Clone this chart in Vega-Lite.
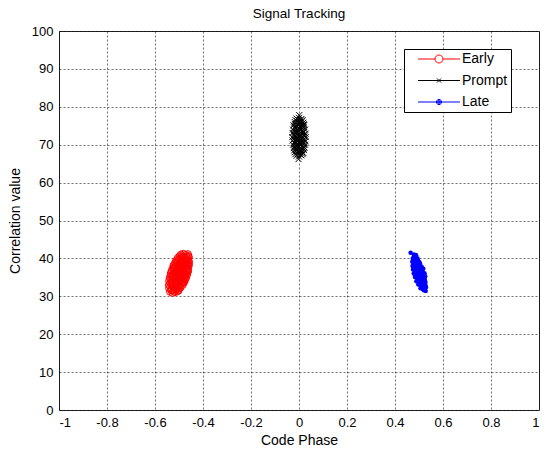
{
  "$schema": "https://vega.github.io/schema/vega-lite/v6.json",
  "width": 480,
  "height": 379,
  "autosize": {"type": "none"},
  "padding": {"left": 59, "top": 31, "right": 5, "bottom": 39},
  "background": "white",
  "title": {"text": "Signal Tracking", "font": "Liberation Sans", "fontSize": 13.5, "fontWeight": "normal", "color": "#000", "offset": 5},
  "config": {
    "view": {"stroke": "#262626", "strokeWidth": 1},
    "axis": {
      "labelFont": "Liberation Sans", "labelFontSize": 13, "labelColor": "#000",
      "titleFont": "Liberation Sans", "titleFontSize": 14, "titleFontWeight": "normal", "titleColor": "#000",
      "domain": false, "ticks": false, "grid": true, "gridColor": "#000", "gridDash": [2, 2], "gridWidth": 0.7, "gridOpacity": 0.8
    },
    "legend": {
      "orient": "none", "legendX": 345, "legendY": 18, "direction": "vertical",
      "strokeColor": "#000", "fillColor": "#fff", "padding": 3,
      "symbolSize": 64, "symbolOffset": 2, "labelOffset": 39, "rowPadding": 7.5,
      "labelFont": "Liberation Sans", "labelFontSize": 14, "labelColor": "#000",
      "symbolStrokeWidth": 1
    }
  },
  "data": {"values": [
    {"s":"Early","x":-0.537,"y":31.2},{"s":"Early","x":-0.527,"y":30.9},{"s":"Early","x":-0.517,"y":31.1},{"s":"Early","x":-0.508,"y":31.3},
    {"s":"Early","x":-0.541,"y":32.1},{"s":"Early","x":-0.531,"y":31.8},{"s":"Early","x":-0.521,"y":32.2},{"s":"Early","x":-0.511,"y":31.9},{"s":"Early","x":-0.501,"y":32.0},{"s":"Early","x":-0.494,"y":32.3},
    {"s":"Early","x":-0.542,"y":33.0},{"s":"Early","x":-0.532,"y":33.2},{"s":"Early","x":-0.522,"y":32.8},{"s":"Early","x":-0.512,"y":33.1},{"s":"Early","x":-0.502,"y":32.9},{"s":"Early","x":-0.492,"y":33.2},{"s":"Early","x":-0.485,"y":33.0},
    {"s":"Early","x":-0.541,"y":34.1},{"s":"Early","x":-0.531,"y":33.9},{"s":"Early","x":-0.521,"y":34.2},{"s":"Early","x":-0.511,"y":33.8},{"s":"Early","x":-0.501,"y":34.0},{"s":"Early","x":-0.491,"y":34.2},{"s":"Early","x":-0.481,"y":33.9},{"s":"Early","x":-0.476,"y":34.1},
    {"s":"Early","x":-0.538,"y":35.0},{"s":"Early","x":-0.528,"y":35.2},{"s":"Early","x":-0.518,"y":34.8},{"s":"Early","x":-0.508,"y":35.1},{"s":"Early","x":-0.498,"y":34.9},{"s":"Early","x":-0.488,"y":35.2},{"s":"Early","x":-0.478,"y":35.0},{"s":"Early","x":-0.471,"y":34.8},
    {"s":"Early","x":-0.534,"y":36.1},{"s":"Early","x":-0.524,"y":35.9},{"s":"Early","x":-0.514,"y":36.2},{"s":"Early","x":-0.504,"y":35.8},{"s":"Early","x":-0.494,"y":36.0},{"s":"Early","x":-0.484,"y":36.3},{"s":"Early","x":-0.474,"y":35.9},{"s":"Early","x":-0.466,"y":36.1},
    {"s":"Early","x":-0.529,"y":37.0},{"s":"Early","x":-0.519,"y":37.2},{"s":"Early","x":-0.509,"y":36.8},{"s":"Early","x":-0.499,"y":37.1},{"s":"Early","x":-0.489,"y":36.9},{"s":"Early","x":-0.479,"y":37.2},{"s":"Early","x":-0.469,"y":37.0},{"s":"Early","x":-0.462,"y":36.8},
    {"s":"Early","x":-0.523,"y":38.1},{"s":"Early","x":-0.513,"y":37.9},{"s":"Early","x":-0.503,"y":38.2},{"s":"Early","x":-0.493,"y":37.8},{"s":"Early","x":-0.483,"y":38.0},{"s":"Early","x":-0.473,"y":38.3},{"s":"Early","x":-0.463,"y":37.9},{"s":"Early","x":-0.459,"y":38.1},
    {"s":"Early","x":-0.515,"y":39.0},{"s":"Early","x":-0.505,"y":39.2},{"s":"Early","x":-0.495,"y":38.8},{"s":"Early","x":-0.485,"y":39.1},{"s":"Early","x":-0.475,"y":38.9},{"s":"Early","x":-0.465,"y":39.2},{"s":"Early","x":-0.458,"y":39.0},
    {"s":"Early","x":-0.505,"y":40.1},{"s":"Early","x":-0.495,"y":39.9},{"s":"Early","x":-0.485,"y":40.2},{"s":"Early","x":-0.475,"y":39.8},{"s":"Early","x":-0.465,"y":40.0},{"s":"Early","x":-0.459,"y":40.3},
    {"s":"Early","x":-0.492,"y":41.0},{"s":"Early","x":-0.482,"y":41.2},{"s":"Early","x":-0.472,"y":40.9},{"s":"Early","x":-0.463,"y":41.1},
    {"s":"Early","x":-0.532,"y":31.6},{"s":"Early","x":-0.522,"y":31.5},{"s":"Early","x":-0.512,"y":31.7},{"s":"Early","x":-0.502,"y":31.5},
    {"s":"Early","x":-0.536,"y":32.5},{"s":"Early","x":-0.526,"y":32.6},{"s":"Early","x":-0.516,"y":32.4},{"s":"Early","x":-0.506,"y":32.5},{"s":"Early","x":-0.496,"y":32.6},
    {"s":"Early","x":-0.537,"y":33.5},{"s":"Early","x":-0.527,"y":33.6},{"s":"Early","x":-0.517,"y":33.4},{"s":"Early","x":-0.507,"y":33.5},{"s":"Early","x":-0.497,"y":33.7},{"s":"Early","x":-0.487,"y":33.5},{"s":"Early","x":-0.480,"y":33.6},
    {"s":"Early","x":-0.536,"y":34.5},{"s":"Early","x":-0.526,"y":34.6},{"s":"Early","x":-0.516,"y":34.4},{"s":"Early","x":-0.506,"y":34.5},{"s":"Early","x":-0.496,"y":34.6},{"s":"Early","x":-0.486,"y":34.4},{"s":"Early","x":-0.476,"y":34.5},
    {"s":"Early","x":-0.533,"y":35.5},{"s":"Early","x":-0.523,"y":35.6},{"s":"Early","x":-0.513,"y":35.4},{"s":"Early","x":-0.503,"y":35.5},{"s":"Early","x":-0.493,"y":35.7},{"s":"Early","x":-0.483,"y":35.5},{"s":"Early","x":-0.473,"y":35.4},{"s":"Early","x":-0.467,"y":35.6},
    {"s":"Early","x":-0.529,"y":36.5},{"s":"Early","x":-0.519,"y":36.6},{"s":"Early","x":-0.509,"y":36.4},{"s":"Early","x":-0.499,"y":36.5},{"s":"Early","x":-0.489,"y":36.6},{"s":"Early","x":-0.479,"y":36.4},{"s":"Early","x":-0.469,"y":36.5},{"s":"Early","x":-0.463,"y":36.6},
    {"s":"Early","x":-0.524,"y":37.5},{"s":"Early","x":-0.514,"y":37.6},{"s":"Early","x":-0.504,"y":37.4},{"s":"Early","x":-0.494,"y":37.5},{"s":"Early","x":-0.484,"y":37.7},{"s":"Early","x":-0.474,"y":37.5},{"s":"Early","x":-0.464,"y":37.4},
    {"s":"Early","x":-0.518,"y":38.5},{"s":"Early","x":-0.508,"y":38.6},{"s":"Early","x":-0.498,"y":38.4},{"s":"Early","x":-0.488,"y":38.5},{"s":"Early","x":-0.478,"y":38.6},{"s":"Early","x":-0.468,"y":38.4},{"s":"Early","x":-0.460,"y":38.5},
    {"s":"Early","x":-0.510,"y":39.5},{"s":"Early","x":-0.500,"y":39.6},{"s":"Early","x":-0.490,"y":39.4},{"s":"Early","x":-0.480,"y":39.5},{"s":"Early","x":-0.470,"y":39.6},{"s":"Early","x":-0.461,"y":39.5},
    {"s":"Early","x":-0.498,"y":40.5},{"s":"Early","x":-0.488,"y":40.6},{"s":"Early","x":-0.478,"y":40.4},{"s":"Early","x":-0.468,"y":40.5},{"s":"Early","x":-0.461,"y":40.6},

    {"s":"Prompt","x":-0.01,"y":67.1},{"s":"Prompt","x":0,"y":66.9},{"s":"Prompt","x":0.01,"y":67.2},
    {"s":"Prompt","x":-0.018,"y":68.0},{"s":"Prompt","x":-0.008,"y":68.2},{"s":"Prompt","x":0.002,"y":67.9},{"s":"Prompt","x":0.012,"y":68.1},{"s":"Prompt","x":0.018,"y":67.8},
    {"s":"Prompt","x":-0.022,"y":69.1},{"s":"Prompt","x":-0.012,"y":68.9},{"s":"Prompt","x":-0.002,"y":69.2},{"s":"Prompt","x":0.008,"y":68.8},{"s":"Prompt","x":0.018,"y":69.0},{"s":"Prompt","x":0.023,"y":69.2},
    {"s":"Prompt","x":-0.025,"y":70.0},{"s":"Prompt","x":-0.015,"y":70.2},{"s":"Prompt","x":-0.005,"y":69.9},{"s":"Prompt","x":0.005,"y":70.1},{"s":"Prompt","x":0.015,"y":69.8},{"s":"Prompt","x":0.025,"y":70.0},
    {"s":"Prompt","x":-0.027,"y":71.1},{"s":"Prompt","x":-0.017,"y":70.9},{"s":"Prompt","x":-0.007,"y":71.2},{"s":"Prompt","x":0.003,"y":70.8},{"s":"Prompt","x":0.013,"y":71.0},{"s":"Prompt","x":0.023,"y":71.2},{"s":"Prompt","x":0.027,"y":70.9},
    {"s":"Prompt","x":-0.028,"y":72.0},{"s":"Prompt","x":-0.018,"y":72.2},{"s":"Prompt","x":-0.008,"y":71.8},{"s":"Prompt","x":0.002,"y":72.1},{"s":"Prompt","x":0.012,"y":71.9},{"s":"Prompt","x":0.022,"y":72.2},{"s":"Prompt","x":0.028,"y":72.0},
    {"s":"Prompt","x":-0.027,"y":73.1},{"s":"Prompt","x":-0.021,"y":72.9},{"s":"Prompt","x":-0.011,"y":73.2},{"s":"Prompt","x":-0.001,"y":72.8},{"s":"Prompt","x":0.009,"y":73.0},{"s":"Prompt","x":0.019,"y":73.2},{"s":"Prompt","x":0.027,"y":72.9},
    {"s":"Prompt","x":-0.025,"y":74.0},{"s":"Prompt","x":-0.015,"y":74.2},{"s":"Prompt","x":-0.005,"y":73.9},{"s":"Prompt","x":0.005,"y":74.1},{"s":"Prompt","x":0.015,"y":73.8},{"s":"Prompt","x":0.025,"y":74.0},
    {"s":"Prompt","x":-0.023,"y":75.1},{"s":"Prompt","x":-0.013,"y":74.9},{"s":"Prompt","x":-0.003,"y":75.2},{"s":"Prompt","x":0.007,"y":74.8},{"s":"Prompt","x":0.017,"y":75.0},{"s":"Prompt","x":0.022,"y":75.2},
    {"s":"Prompt","x":-0.018,"y":76.0},{"s":"Prompt","x":-0.008,"y":76.2},{"s":"Prompt","x":0.002,"y":75.9},{"s":"Prompt","x":0.012,"y":76.1},{"s":"Prompt","x":0.018,"y":75.8},
    {"s":"Prompt","x":-0.01,"y":76.9},{"s":"Prompt","x":0,"y":77.1},{"s":"Prompt","x":0.01,"y":76.8},
    {"s":"Prompt","x":-0.015,"y":67.5},{"s":"Prompt","x":-0.005,"y":67.6},{"s":"Prompt","x":0.005,"y":67.4},{"s":"Prompt","x":0.015,"y":67.5},
    {"s":"Prompt","x":-0.02,"y":68.5},{"s":"Prompt","x":-0.01,"y":68.6},{"s":"Prompt","x":0,"y":68.4},{"s":"Prompt","x":0.01,"y":68.5},{"s":"Prompt","x":0.02,"y":68.6},
    {"s":"Prompt","x":-0.02,"y":69.5},{"s":"Prompt","x":-0.01,"y":69.4},{"s":"Prompt","x":0,"y":69.6},{"s":"Prompt","x":0.01,"y":69.5},{"s":"Prompt","x":0.02,"y":69.4},
    {"s":"Prompt","x":-0.02,"y":70.5},{"s":"Prompt","x":-0.01,"y":70.6},{"s":"Prompt","x":0,"y":70.4},{"s":"Prompt","x":0.01,"y":70.5},{"s":"Prompt","x":0.02,"y":70.6},
    {"s":"Prompt","x":-0.02,"y":71.5},{"s":"Prompt","x":-0.01,"y":71.4},{"s":"Prompt","x":0,"y":71.6},{"s":"Prompt","x":0.01,"y":71.5},{"s":"Prompt","x":0.02,"y":71.4},
    {"s":"Prompt","x":-0.02,"y":72.5},{"s":"Prompt","x":-0.01,"y":72.6},{"s":"Prompt","x":0,"y":72.4},{"s":"Prompt","x":0.01,"y":72.5},{"s":"Prompt","x":0.02,"y":72.6},
    {"s":"Prompt","x":-0.02,"y":73.5},{"s":"Prompt","x":-0.01,"y":73.4},{"s":"Prompt","x":0,"y":73.6},{"s":"Prompt","x":0.01,"y":73.5},{"s":"Prompt","x":0.02,"y":73.4},
    {"s":"Prompt","x":-0.02,"y":74.5},{"s":"Prompt","x":-0.01,"y":74.6},{"s":"Prompt","x":0,"y":74.4},{"s":"Prompt","x":0.01,"y":74.5},{"s":"Prompt","x":0.02,"y":74.6},
    {"s":"Prompt","x":-0.018,"y":75.5},{"s":"Prompt","x":-0.008,"y":75.4},{"s":"Prompt","x":0.002,"y":75.6},{"s":"Prompt","x":0.012,"y":75.5},{"s":"Prompt","x":0.02,"y":75.4},
    {"s":"Prompt","x":-0.015,"y":76.5},{"s":"Prompt","x":-0.005,"y":76.6},{"s":"Prompt","x":0.005,"y":76.4},{"s":"Prompt","x":0.015,"y":76.5},
    {"s":"Prompt","x":0.001,"y":77.8},{"s":"Prompt","x":-0.002,"y":66.2},

    {"s":"Late","x":0.520,"y":31.6},{"s":"Late","x":0.528,"y":31.4},
    {"s":"Late","x":0.506,"y":32.1},{"s":"Late","x":0.516,"y":31.9},{"s":"Late","x":0.526,"y":32.2},
    {"s":"Late","x":0.511,"y":32.5},{"s":"Late","x":0.521,"y":32.6},{"s":"Late","x":0.529,"y":32.4},
    {"s":"Late","x":0.497,"y":33.1},{"s":"Late","x":0.507,"y":32.9},{"s":"Late","x":0.517,"y":33.2},{"s":"Late","x":0.527,"y":33.0},
    {"s":"Late","x":0.502,"y":33.5},{"s":"Late","x":0.512,"y":33.6},{"s":"Late","x":0.522,"y":33.4},
    {"s":"Late","x":0.489,"y":34.0},{"s":"Late","x":0.499,"y":34.2},{"s":"Late","x":0.509,"y":33.9},{"s":"Late","x":0.519,"y":34.1},{"s":"Late","x":0.527,"y":33.8},
    {"s":"Late","x":0.494,"y":34.5},{"s":"Late","x":0.504,"y":34.6},{"s":"Late","x":0.514,"y":34.4},{"s":"Late","x":0.524,"y":34.5},
    {"s":"Late","x":0.483,"y":35.1},{"s":"Late","x":0.493,"y":34.9},{"s":"Late","x":0.503,"y":35.2},{"s":"Late","x":0.513,"y":34.8},{"s":"Late","x":0.523,"y":35.0},{"s":"Late","x":0.526,"y":35.3},
    {"s":"Late","x":0.488,"y":35.5},{"s":"Late","x":0.498,"y":35.6},{"s":"Late","x":0.508,"y":35.4},{"s":"Late","x":0.518,"y":35.5},
    {"s":"Late","x":0.478,"y":36.0},{"s":"Late","x":0.488,"y":36.2},{"s":"Late","x":0.498,"y":35.9},{"s":"Late","x":0.508,"y":36.1},{"s":"Late","x":0.518,"y":35.8},{"s":"Late","x":0.523,"y":36.1},
    {"s":"Late","x":0.483,"y":36.5},{"s":"Late","x":0.493,"y":36.6},{"s":"Late","x":0.503,"y":36.4},{"s":"Late","x":0.513,"y":36.5},
    {"s":"Late","x":0.475,"y":37.1},{"s":"Late","x":0.485,"y":36.9},{"s":"Late","x":0.495,"y":37.2},{"s":"Late","x":0.505,"y":36.8},{"s":"Late","x":0.515,"y":37.0},{"s":"Late","x":0.518,"y":37.3},
    {"s":"Late","x":0.479,"y":37.5},{"s":"Late","x":0.489,"y":37.6},{"s":"Late","x":0.499,"y":37.4},{"s":"Late","x":0.509,"y":37.5},
    {"s":"Late","x":0.473,"y":38.0},{"s":"Late","x":0.483,"y":38.2},{"s":"Late","x":0.493,"y":37.9},{"s":"Late","x":0.503,"y":38.1},{"s":"Late","x":0.511,"y":37.8},
    {"s":"Late","x":0.477,"y":38.5},{"s":"Late","x":0.487,"y":38.6},{"s":"Late","x":0.497,"y":38.4},{"s":"Late","x":0.505,"y":38.5},
    {"s":"Late","x":0.472,"y":39.1},{"s":"Late","x":0.482,"y":38.9},{"s":"Late","x":0.492,"y":39.2},{"s":"Late","x":0.502,"y":39.0},
    {"s":"Late","x":0.477,"y":39.5},{"s":"Late","x":0.487,"y":39.6},{"s":"Late","x":0.497,"y":39.4},
    {"s":"Late","x":0.474,"y":40.0},{"s":"Late","x":0.484,"y":40.2},{"s":"Late","x":0.494,"y":39.9},
    {"s":"Late","x":0.479,"y":40.5},{"s":"Late","x":0.489,"y":40.6},
    {"s":"Late","x":0.478,"y":41.0},{"s":"Late","x":0.487,"y":40.9},
    {"s":"Late","x":0.465,"y":41.5}
  ]},
  "encoding": {
    "x": {"field": "x", "type": "quantitative",
      "scale": {"domain": [-1, 1], "nice": false, "zero": false},
      "axis": {"title": "Code Phase", "values": [-1, -0.8, -0.6, -0.4, -0.2, 0, 0.2, 0.4, 0.6, 0.8, 1], "labelExpr": "'' + datum.value", "labelPadding": 6, "titlePadding": 4}},
    "y": {"field": "y", "type": "quantitative",
      "scale": {"domain": [0, 100], "nice": false},
      "axis": {"title": "Correlation value", "values": [0, 10, 20, 30, 40, 50, 60, 70, 80, 90, 100], "labelPadding": 6, "titlePadding": 9}}
  },
  "layer": [
    {"transform": [{"filter": "datum.s === 'Early'"}],
     "mark": {"type": "point", "shape": "circle", "filled": false, "size": 50, "strokeWidth": 1, "opacity": 1, "color": "#ff0000"}},
    {"transform": [{"filter": "datum.s === 'Prompt'"}],
     "mark": {"type": "point", "shape": "M-1,-1L1,1M-1,1L1,-1", "filled": false, "size": 36, "strokeWidth": 1, "opacity": 1, "color": "#000000"}},
    {"transform": [{"filter": "datum.s === 'Late'"}],
     "mark": {"type": "point", "shape": "circle", "filled": true, "size": 20, "opacity": 1, "color": "#0000ff"}},
    {"transform": [{"filter": "false"}],
     "mark": {"type": "point", "filled": false, "size": 64, "strokeWidth": 1, "opacity": 1},
     "encoding": {
       "color": {"field": "s", "type": "nominal",
         "scale": {"domain": ["Early", "Prompt", "Late"], "range": ["#ff0000", "#000000", "#0000ff"]},
         "legend": {"title": null}},
       "shape": {"field": "s", "type": "nominal",
         "scale": {"domain": ["Early", "Prompt", "Late"],
           "range": [
             "M0.5,0H4.75M6.75,0H11M4.75,0A1,1 0 1,1 6.75,0A1,1 0 1,1 4.75,0",
             "M0.5,0H11M5.25,-0.5L6.25,0.5M5.25,0.5L6.25,-0.5",
             "M0.5,0H11M5.1,0A0.65,0.65 0 1,1 6.4,0A0.65,0.65 0 1,1 5.1,0M5.4,0A0.35,0.35 0 1,1 6.1,0A0.35,0.35 0 1,1 5.4,0M5.65,0A0.1,0.1 0 1,1 5.85,0A0.1,0.1 0 1,1 5.65,0"
           ]},
         "legend": {"title": null}}
     }}
  ]
}
